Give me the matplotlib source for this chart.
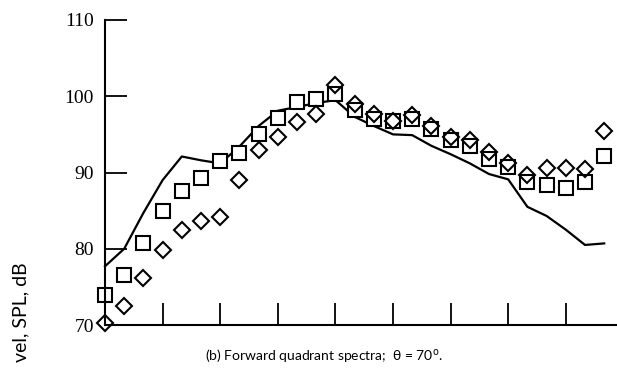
import numpy as np
import matplotlib
matplotlib.use("Agg")
import matplotlib.pyplot as plt

# 1/3-octave band index (ticks every third band)
band = np.arange(27)

# measured spectra, SPL in dB
spl_square = [73.9, 76.6, 80.7, 85.0, 87.6, 89.3, 91.5, 92.5, 95.1, 97.2, 99.2, 99.7, 100.3,
              98.2, 97.0, 96.7, 97.0, 95.7, 94.2, 93.5, 91.8, 90.7, 88.8, 88.3, 88.0, 88.7, 92.2]
spl_diamond = [70.2, 72.5, 76.2, 79.9, 82.4, 83.6, 84.2, 89.0, 93.0, 94.7, 96.6, 97.7, 101.5,
               99.0, 97.7, 96.8, 97.5, 96.1, 94.6, 94.2, 92.7, 91.2, 89.7, 90.6, 90.6, 90.4, 95.4]
# predicted spectrum (solid line)
spl_line = [77.7, 80.0, 84.7, 89.0, 92.1, 91.6, 91.2, 93.4, 96.1, 98.1, 98.6, 99.1, 99.5,
            97.3, 96.1, 95.0, 94.9, 93.5, 92.4, 91.2, 89.8, 89.1, 85.5, 84.3, 82.5, 80.5, 80.7]

yticks = [70, 80, 90, 100, 110]
xticks = list(range(0, 25, 3))

fig = plt.figure(figsize=(6.17, 3.68), dpi=100)
ax = fig.add_axes([105 / 617, 43 / 368, 512 / 617, 305 / 368])

ax.plot(band, spl_line, color='black', lw=1.6, clip_on=False)
ax.plot(band, spl_square, ls='none', marker='s', ms=9.5, mfc='white', mec='black',
        mew=1.5, clip_on=False)
ax.plot(band, spl_diamond, ls='none', marker='D', ms=8.5, mfc='none', mec='black',
        mew=1.5, clip_on=False)

ax.set_xlim(0, 512 / 19.2)
ax.set_ylim(70, 110)
ax.set_xticks(xticks)
ax.set_xticklabels([])
ax.set_yticks(yticks)
ax.set_yticklabels([str(v) for v in yticks], family='Liberation Serif', fontsize=14)
ax.tick_params(axis='both', direction='in', length=16, width=1.3, color='black')
ax.tick_params(axis='y', pad=8)

for s in ['top', 'right']:
    ax.spines[s].set_visible(False)
for s in ['left', 'bottom']:
    ax.spines[s].set_linewidth(1.5)

# y label is cut by the page edge in the original scan
fig.text(21 / 617, 1 - 262 / 368, 'vel, SPL, dB', rotation=90,
         ha='center', va='top', fontsize=14, family='Lato')
fig.text(205 / 617, 1 - 361 / 368, '(b) Forward quadrant spectra;  θ = 70$^{\\mathrm{o}}$.',
         ha='left', va='baseline', fontsize=10, family='Lato')

fig.savefig('out.png', dpi=100)
